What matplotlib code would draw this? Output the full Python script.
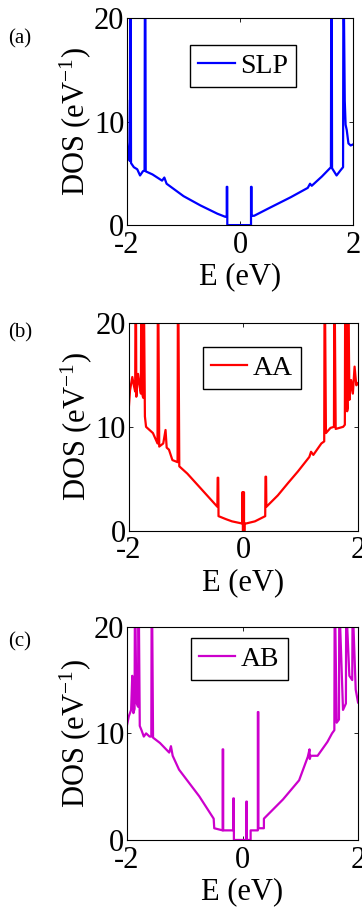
import matplotlib
matplotlib.use("Agg")
import matplotlib.pyplot as plt

plt.rcParams['font.family'] = ['Liberation Serif', 'DejaVu Serif']
plt.rcParams['mathtext.fontset'] = 'custom'
plt.rcParams['mathtext.rm'] = 'Liberation Serif'
plt.rcParams['mathtext.it'] = 'Liberation Serif'
plt.rcParams['axes.unicode_minus'] = False

# Densidade de estados (E em eV, DOS em 1/eV)
E_slp = [-2.0, -1.995, -1.98, -1.96, -1.95, -1.945, -1.935, -1.93, -1.88, -1.82,
         -1.77, -1.72, -1.69, -1.685, -1.675, -1.67, -1.55, -1.38, -1.34, -1.30,
         -1.0, -0.7, -0.4, -0.26, -0.235, -0.235, -0.225, -0.225, 0.0, 0.195,
         0.195, 0.205, 0.205, 0.25, 0.5, 0.9, 1.2, 1.24, 1.27, 1.45, 1.61,
         1.615, 1.625, 1.63, 1.71, 1.78, 1.825, 1.83, 1.84, 1.855, 1.87, 1.89,
         1.92, 1.96, 2.0]
D_slp = [12.0, 8.0, 7.0, 6.3, 6.2, 21, 21, 6.0, 5.6, 5.4,
         4.8, 5.2, 5.3, 21, 21, 5.2, 4.9, 4.3, 4.6, 4.0,
         2.8, 1.9, 1.1, 0.8, 0.8, 3.7, 3.7, 0.0, 0.0, 0.0,
         3.7, 3.7, 0.9, 0.9, 1.6, 2.7, 3.6, 4.0, 3.8, 4.7, 5.6,
         21, 21, 5.5, 4.8, 5.3, 5.6, 21, 21, 12.0, 9.7, 9.2,
         7.9, 7.7, 7.8]

E_aa = [-2.0, -1.98, -1.94, -1.91, -1.89, -1.885, -1.875, -1.87, -1.84, -1.80,
        -1.79, -1.785, -1.775, -1.76, -1.75, -1.745, -1.735, -1.72, -1.70, -1.58,
        -1.50, -1.495, -1.485, -1.47, -1.40, -1.36, -1.34, -1.30, -1.24, -1.15,
        -1.145, -1.135, -1.12, -0.98, -0.75, -0.455, -0.45, -0.44, -0.435, -0.30,
        -0.20, -0.03, -0.02, -0.02, -0.01, -0.01, 0.0, 0.0, 0.01, 0.01, 0.02,
        0.02, 0.05, 0.20, 0.38, 0.385, 0.395, 0.40, 0.60, 0.78, 0.95, 1.15,
        1.18, 1.22, 1.36, 1.41, 1.415, 1.425, 1.44, 1.52, 1.58, 1.585, 1.595,
        1.61, 1.74, 1.77, 1.775, 1.785, 1.81, 1.82, 1.825, 1.835, 1.85, 1.88,
        1.91, 1.94, 1.97, 2.0]
D_aa = [11.9, 13.5, 14.8, 13.9, 13.4, 21, 21, 12.9, 15.1, 13.5,
        13.2, 21, 21, 13.0, 12.8, 21, 21, 11.0, 10.0, 9.4,
        8.4, 21, 21, 8.1, 8.4, 9.7, 8.0, 7.8, 6.8, 6.6,
        21, 21, 6.2, 5.5, 4.1, 2.3, 5.1, 5.1, 1.4, 1.1,
        0.9, 0.7, 0.7, 3.7, 3.7, 0.0, 0.0, 3.7, 3.7, 0.0, 0.0,
        0.7, 0.7, 0.9, 1.4, 5.2, 5.2, 2.3, 3.4, 4.6, 5.7, 7.1,
        7.6, 7.3, 8.4, 8.6, 21, 21, 9.4, 9.9, 10.0, 21, 21,
        9.8, 10.0, 10.2, 21, 21, 11.5, 11.8, 21, 21, 12.6, 14.5,
        13.2, 15.8, 14.0, 14.2]

E_ab = [-2.0, -1.97, -1.93, -1.91, -1.89, -1.87, -1.865, -1.855, -1.84, -1.81,
        -1.805, -1.795, -1.78, -1.75, -1.71, -1.67, -1.61, -1.58, -1.575, -1.565,
        -1.55, -1.43, -1.27, -1.24, -1.21, -1.10, -0.75, -0.50, -0.49, -0.345,
        -0.345, -0.335, -0.335, -0.17, -0.16, -0.16, -0.15, -0.15, 0.065, 0.065,
        0.075, 0.075, 0.14, 0.14, 0.265, 0.265, 0.275, 0.275, 0.37, 0.37, 0.70,
        0.98, 1.13, 1.16, 1.165, 1.18, 1.30, 1.47, 1.55, 1.59, 1.595, 1.605,
        1.63, 1.67, 1.675, 1.685, 1.74, 1.79, 1.795, 1.805, 1.85, 1.90, 1.905,
        1.915, 1.96, 2.0]
D_ab = [10.8, 11.6, 12.2, 15.4, 11.9, 12.3, 21, 21, 12.9, 12.5,
        21, 21, 10.7, 10.3, 9.7, 10.0, 9.7, 9.7, 21, 21,
        9.6, 9.1, 8.2, 8.8, 7.9, 6.6, 4.1, 2.0, 1.1, 0.9,
        8.5, 8.5, 0.9, 0.9, 0.9, 3.9, 3.9, 0.0, 0.0, 3.6,
        3.6, 0.0, 0.0, 0.9, 0.9, 12.0, 12.0, 1.1, 1.1, 2.0, 3.8,
        5.6, 7.8, 8.5, 7.6, 7.9, 7.9, 9.2, 10.0, 10.3, 21, 21,
        11.0, 11.3, 21, 21, 12.2, 12.8, 21, 21, 15.4, 15.0, 21,
        21, 14.1, 12.9]

paineis = [
    ('(a)', 'SLP', E_slp, D_slp, '#0000FF', [0.351, 0.754, 0.624, 0.226],
     (0.279, 0.87), 0.958),
    ('(b)', 'AA', E_aa, D_aa, '#FF0000', [0.356, 0.420, 0.633, 0.227],
     (0.323, 0.885), 0.636),
    ('(c)', 'AB', E_ab, D_ab, '#CC00CC', [0.351, 0.082, 0.638, 0.233],
     (0.277, 0.948), 0.298),
]

fig = plt.figure(figsize=(3.62, 9.15), dpi=100)

for letra, nome, E, D, cor, pos, leg_pos, y_letra in paineis:
    ax = fig.add_axes(pos)
    ax.plot(E, D, color=cor, lw=1.6, label=nome)
    ax.set_xlim(-2, 2)
    ax.set_ylim(0, 20)
    ax.set_xticks([-2, 0, 2])
    ax.set_yticks([0, 10, 20])
    ax.tick_params(direction='in', length=3, width=0.6, labelsize=22,
                   top=True, right=True)
    ax.tick_params(axis='x', pad=4)
    ax.tick_params(axis='y', pad=2)
    for s in ax.spines.values():
        s.set_linewidth(0.8)
    ax.set_xlabel('E (eV)', fontsize=22, labelpad=2)
    ax.set_ylabel('DOS (eV$^{-1}$)', fontsize=22, labelpad=1)
    ax.legend(loc='upper left', bbox_to_anchor=leg_pos, borderaxespad=0,
              fontsize=20, fancybox=False, edgecolor='black', framealpha=1,
              handlelength=1.3, handletextpad=0.2, borderpad=0.3)
    fig.text(0.022, y_letra, letra, fontsize=15, va='center', ha='left')

fig.savefig('out.png', dpi=100)
